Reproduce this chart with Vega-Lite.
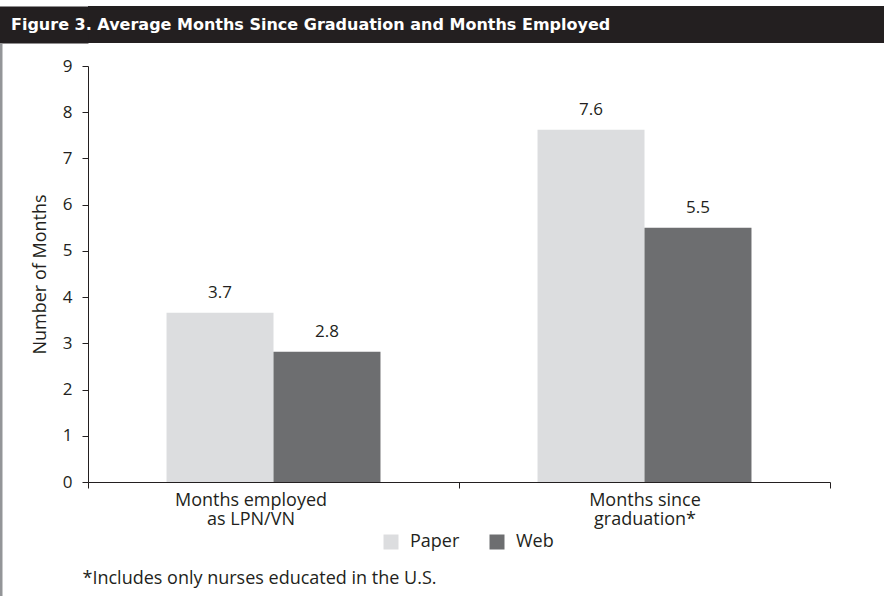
{
  "$schema": "https://vega.github.io/schema/vega-lite/v6.json",
  "background": "white",
  "padding": {"top": 6, "left": 0, "right": 0, "bottom": 0},
  "spacing": 14,
  "columns": 1,
  "align": "none",
  "resolve": {"legend": {"color": "independent"}},
  "config": {
    "view": {"stroke": null},
    "font": "Open Sans",
    "text": {"font": "Open Sans"}
  },
  "concat": [
    {
      "width": 796,
      "height": 37,
      "view": {"fill": "#231f20", "stroke": null},
      "title": {
        "text": "Figure 3. Average Months Since Graduation and Months Employed",
        "orient": "top",
        "anchor": "start",
        "frame": "bounds",
        "offset": -27,
        "dx": -32.5,
        "color": "#ffffff",
        "font": "DejaVu Sans",
        "fontSize": 16,
        "fontWeight": "bold"
      },
      "data": {"values": []},
      "mark": {"type": "point", "opacity": 0},
      "encoding": {
        "y": {
          "field": "b",
          "type": "quantitative",
          "scale": {"domain": [0, 1]},
          "axis": {
            "orient": "left",
            "offset": 44.5,
            "domainColor": "#231f20",
            "domainWidth": 89,
            "labels": false,
            "ticks": false,
            "grid": false,
            "title": null
          }
        }
      }
    },
    {
      "width": 742,
      "height": 416,
      "title": {
        "text": "*Includes only nurses educated in the U.S.",
        "orient": "bottom",
        "anchor": "start",
        "frame": "bounds",
        "offset": -49,
        "dx": 82,
        "color": "#231f20",
        "font": "Open Sans",
        "fontSize": 18,
        "fontWeight": "normal"
      },
      "data": {
        "values": [
          {"measure": "Months employed as LPN/VN", "mode": "Paper", "months": 3.66},
          {"measure": "Months employed as LPN/VN", "mode": "Web", "months": 2.82},
          {"measure": "Months since graduation*", "mode": "Paper", "months": 7.62},
          {"measure": "Months since graduation*", "mode": "Web", "months": 5.5}
        ]
      },
      "resolve": {"scale": {"y": "independent"}, "axis": {"y": "independent"}},
      "layer": [
        {
          "mark": {"type": "bar"},
          "encoding": {
            "x": {
              "field": "measure",
              "type": "nominal",
              "sort": ["Months employed as LPN/VN", "Months since graduation*"],
              "scale": {"paddingInner": 0, "paddingOuter": 0},
              "axis": {
                "title": null,
                "labelAngle": 0,
                "tickBand": "extent",
                "labelExpr": "datum.value == 'Months employed as LPN/VN' ? ['Months employed', 'as LPN/VN'] : datum.value == 'Months since graduation*' ? ['Months since', 'graduation*'] : ''",
                "labelOffset": {"condition": {"test": "datum.value == 'Months employed as LPN/VN'", "value": -23}, "value": 0},
                "domainColor": "#231f20",
                "tickColor": "#231f20",
                "tickSize": 6,
                "labelFontSize": 18,
                "labelColor": "#231f20",
                "labelPadding": 3,
                "labelLineHeight": 19.5,
                "labelBaseline": "top"
              }
            },
            "xOffset": {
              "field": "mode",
              "type": "nominal",
              "sort": ["Paper", "Web"],
              "scale": {"paddingInner": 0, "paddingOuter": 0.734}
            },
            "y": {
              "field": "months",
              "type": "quantitative",
              "scale": {"domain": [0, 9], "nice": false},
              "axis": {
                "title": "Number of Months",
                "values": [0, 1, 2, 3, 4, 5, 6, 7, 8, 9],
                "grid": false,
                "domainColor": "#231f20",
                "tickColor": "#231f20",
                "tickSize": 6,
                "labelPadding": 10,
                "labelFontSize": 17,
                "labelColor": "#231f20",
                "titleFontSize": 18,
                "titleFontWeight": "normal",
                "titleColor": "#231f20",
                "titlePadding": 13
              }
            },
            "color": {
              "field": "mode",
              "type": "nominal",
              "sort": ["Paper", "Web"],
              "scale": {"domain": ["Paper", "Web"], "range": ["#dcdddf", "#6d6e70"]},
              "legend": {
                "orient": "none",
                "legendX": 294,
                "legendY": 467,
                "direction": "horizontal",
                "title": null,
                "symbolType": "square",
                "symbolSize": 225,
                "symbolStrokeWidth": 0,
                "labelFontSize": 18,
                "labelColor": "#231f20",
                "columnPadding": 28,
                "labelOffset": 10,
                "padding": 0
              }
            }
          }
        },
        {
          "mark": {"type": "text", "baseline": "alphabetic", "dy": -15, "fontSize": 17, "color": "#231f20"},
          "encoding": {
            "x": {"field": "measure", "type": "nominal", "sort": ["Months employed as LPN/VN", "Months since graduation*"]},
            "xOffset": {"field": "mode", "type": "nominal", "sort": ["Paper", "Web"]},
            "y": {"field": "months", "type": "quantitative", "scale": {"domain": [0, 9], "nice": false}, "axis": null},
            "text": {"field": "months", "type": "quantitative", "format": ".1f"}
          }
        },
        {
          "data": {"values": []},
          "mark": {"type": "point", "opacity": 0},
          "encoding": {
            "y": {
              "field": "b",
              "type": "quantitative",
              "scale": {"domain": [0, 1], "range": [530, -23]},
              "axis": {
                "orient": "left",
                "offset": 87.5,
                "domainColor": "#939598",
                "domainWidth": 3,
                "labels": false,
                "ticks": false,
                "grid": false,
                "title": null
              }
            }
          }
        }
      ]
    }
  ]
}
